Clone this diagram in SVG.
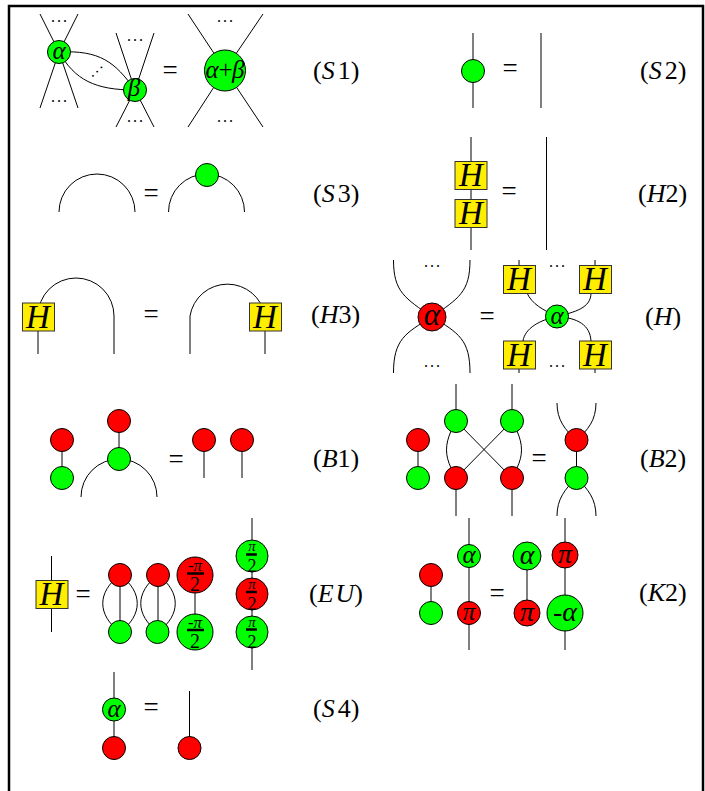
<svg xmlns="http://www.w3.org/2000/svg" width="705" height="791" viewBox="0 0 705 791">
<style>
text{font-family:"Liberation Serif","Times New Roman",serif;fill:#000}
.w{fill:none;stroke:#000;stroke-width:1}
.g{fill:#0f0;stroke:#000;stroke-width:1}
.r{fill:#f00;stroke:#000;stroke-width:1}
.y{fill:#ffee00;stroke:#333;stroke-width:1}
.eq{font-size:27px;text-anchor:middle}
.lab{font-size:26px}
.i{font-style:italic}
.n{font-size:25px;font-style:italic;text-anchor:middle}
.b{font-size:28px}
.h{font-size:33px;font-style:italic;text-anchor:middle}
.d{font-size:16px;letter-spacing:2px;text-anchor:middle}
.num{font-size:17px;text-anchor:middle}
.den{font-size:20px;text-anchor:middle}
.sn{font-size:15px;text-anchor:middle;font-style:italic}
.sd{font-size:18px;text-anchor:middle}
.bar{stroke:#000;stroke-width:2.5}
</style>
<rect x="9" y="6" width="694" height="800" fill="#fff" stroke="#000" stroke-width="2.5"/>
<g id="connectors" class="w">
<path d="M40,14L59,52L78,14M40,108L59,52L78,108"/>
<path d="M116,33L135,90L154,33M116,127L135,90L154,127"/>
<path d="M59,52C100,50 115,62 135,90M59,52C75,80 95,90 135,90"/>
<path d="M188,14L225,70L263,14M188,127L225,70L263,127"/>
<path d="M473,33V108M541,33V108"/>
<path d="M59,212A38,38 0 0 1 135,212"/>
<path d="M168.500,212A38,38 0 0 1 244.500,212"/>
<path d="M471,137V250M546.500,137V250"/>
<path d="M38,331V354M38,316A38,38 0 0 1 114,316V354"/>
<path d="M190,354V316A38,38 0 0 1 265,316M265,331V354"/>
<path d="M393.500,260C393.500,292 405,298 432,317C459,298 470,292 470,260"/>
<path d="M393.500,373C393.500,340 405,333 432,317C459,333 470,340 470,373"/>
<path d="M519,260V266M595,260V266M519,368V373M595,368V373"/>
<path d="M527,293C532,304 543,310 557,316.500C575,312 591,308 591,293"/>
<path d="M523,341C525,328 540,320 557,316.500C578,318 590,325 591,341"/>
<path d="M62,440V478M119,421V459M81,497A38,38 0 0 1 157,497"/>
<path d="M204,440V478M242,440V478"/>
<path d="M418,440V478M456,384V421M512,384V421M456,478V516M512,478V516"/>
<path d="M456,421L512,478M512,421L456,478"/>
<path d="M451,431C445,445 445,455 451,468M517,431C523,445 523,455 517,468"/>
<path d="M557,403C557,420 565,430 576.500,440C588,430 596,420 596,403"/>
<path d="M576.500,440V478M557,516C557,499 565,489 576.500,478C588,489 596,499 596,516"/>
<path d="M51.500,556V632"/>
<path d="M120,575V632M158,575V632"/>
<path d="M120,575C97,592 97,615 120,632C143,615 143,592 120,575"/>
<path d="M158,575C135,592 135,615 158,632C181,615 181,592 158,575"/>
<path d="M195,575V632M252,518V670"/>
<path d="M114,672V748M189.500,691V748"/>
<path d="M431,575V613M469,518V650M527,556V613M565,518V650"/>
</g>
<g id="equals">
<text class="eq" x="170" y="79">=</text>
<text class="eq" x="510" y="77">=</text>
<text class="eq" x="151" y="202">=</text>
<text class="eq" x="509" y="200">=</text>
<text class="eq" x="151" y="323">=</text>
<text class="eq" x="487" y="325">=</text>
<text class="eq" x="176" y="468">=</text>
<text class="eq" x="539" y="467">=</text>
<text class="eq" x="83" y="603">=</text>
<text class="eq" x="151" y="716">=</text>
<text class="eq" x="497" y="602">=</text>
</g>
<g id="dots">
<text class="d" x="60" y="22">...</text>
<text class="d" x="60" y="102">...</text>
<text class="d" x="136" y="41">...</text>
<text class="d" x="136" y="122">...</text>
<text class="d" x="226" y="22">...</text>
<text class="d" x="226" y="122">...</text>
<text class="d" x="97" y="72" transform="rotate(-45 97 70)">...</text>
<text class="d" x="433" y="267">...</text>
<text class="d" x="433" y="367">...</text>
<text class="d" x="558" y="267">...</text>
<text class="d" x="558" y="367">...</text>
</g>
<g id="n-s1-a"><circle class="g" cx="59" cy="52" r="11.500"/><text class="n" x="59" y="59">α</text></g>
<g id="n-s1-b"><circle class="g" cx="135" cy="90" r="11.500"/><text class="n" x="134" y="96">β</text></g>
<g id="n-s1-ab"><circle class="g" cx="225" cy="70.500" r="20.500"/><text class="n" x="225" y="78" textLength="39">α+β</text></g>
<g id="n-s2"><circle class="g" cx="473" cy="71" r="11.500"/></g>
<g id="n-s3"><circle class="g" cx="207" cy="175" r="11.500"/></g>
<g id="n-h2-1"><rect class="y" x="455" y="161.500" width="32" height="28"/><text class="h" x="471" y="186">H</text></g>
<g id="n-h2-2"><rect class="y" x="455" y="199.500" width="32" height="28"/><text class="h" x="471" y="224">H</text></g>
<g id="n-h3-l"><rect class="y" x="22.500" y="303" width="32" height="28"/><text class="h" x="38" y="327.500">H</text></g>
<g id="n-h3-r"><rect class="y" x="249.500" y="303" width="32" height="28"/><text class="h" x="265" y="327.500">H</text></g>
<g id="n-h-red"><circle class="r" cx="432" cy="317" r="14"/><text class="n" x="432" y="325" style="font-size:31px">α</text></g>
<g id="n-h-b1"><rect class="y" x="503.500" y="265.500" width="32" height="28"/><text class="h" x="519" y="290">H</text></g>
<g id="n-h-b2"><rect class="y" x="579.500" y="265.500" width="32" height="28"/><text class="h" x="595" y="290">H</text></g>
<g id="n-h-b3"><rect class="y" x="503.500" y="341" width="32" height="28"/><text class="h" x="519" y="365.500">H</text></g>
<g id="n-h-b4"><rect class="y" x="579.500" y="341" width="32" height="28"/><text class="h" x="595" y="365.500">H</text></g>
<g id="n-h-green"><circle class="g" cx="557" cy="316.500" r="11.500"/><text class="n" x="557" y="324">α</text></g>
<g id="n-b1-1"><circle class="r" cx="62" cy="440" r="11.500"/></g>
<g id="n-b1-2"><circle class="g" cx="62" cy="478" r="11.500"/></g>
<g id="n-b1-3"><circle class="r" cx="119" cy="421" r="11.500"/></g>
<g id="n-b1-4"><circle class="g" cx="119" cy="459" r="11.500"/></g>
<g id="n-b1-5"><circle class="r" cx="204" cy="440" r="11.500"/></g>
<g id="n-b1-6"><circle class="r" cx="242" cy="440" r="11.500"/></g>
<g id="n-b2-1"><circle class="r" cx="418" cy="440" r="11.500"/></g>
<g id="n-b2-2"><circle class="g" cx="418" cy="478" r="11.500"/></g>
<g id="n-b2-3"><circle class="g" cx="456" cy="421" r="11.500"/></g>
<g id="n-b2-4"><circle class="g" cx="512" cy="421" r="11.500"/></g>
<g id="n-b2-5"><circle class="r" cx="456" cy="478" r="11.500"/></g>
<g id="n-b2-6"><circle class="r" cx="512" cy="478" r="11.500"/></g>
<g id="n-b2-7"><circle class="r" cx="576.500" cy="440" r="11.500"/></g>
<g id="n-b2-8"><circle class="g" cx="576.500" cy="478" r="11.500"/></g>
<g id="n-eu-h"><rect class="y" x="36" y="580.500" width="32" height="28"/><text class="h" x="51.500" y="605">H</text></g>
<g id="n-eu-1"><circle class="r" cx="120" cy="575" r="11.500"/></g>
<g id="n-eu-2"><circle class="g" cx="120" cy="632" r="11.500"/></g>
<g id="n-eu-3"><circle class="r" cx="158" cy="575" r="11.500"/></g>
<g id="n-eu-4"><circle class="g" cx="157.500" cy="632" r="11.500"/></g>
<g id="n-eu-5"><circle class="r" cx="195" cy="575" r="18"/><text class="num" x="195" y="571">-<tspan class="i">π</tspan></text><path class="bar" d="M187,573.500H204"/><text class="den" x="195" y="591">2</text></g>
<g id="n-eu-6"><circle class="g" cx="195" cy="632" r="18"/><text class="num" x="195" y="628">-<tspan class="i">π</tspan></text><path class="bar" d="M187,630H204"/><text class="den" x="195" y="648">2</text></g>
<g id="n-eu-7"><circle class="g" cx="252" cy="556" r="16"/><text class="sn" x="252" y="551">π</text><path class="bar" d="M246,554.500H257"/><text class="sd" x="252" y="572">2</text></g>
<g id="n-eu-8"><circle class="r" cx="252" cy="594" r="16"/><text class="sn" x="252" y="589">π</text><path class="bar" d="M246,592H257"/><text class="sd" x="252" y="610">2</text></g>
<g id="n-eu-9"><circle class="g" cx="252" cy="632" r="16"/><text class="sn" x="252" y="627">π</text><path class="bar" d="M246,629.500H257"/><text class="sd" x="252" y="648">2</text></g>
<g id="n-s4-1"><circle class="g" cx="114" cy="709.500" r="11.500"/><text class="n" x="114" y="717">α</text></g>
<g id="n-s4-2"><circle class="r" cx="114" cy="748" r="11.500"/></g>
<g id="n-s4-3"><circle class="r" cx="189.500" cy="748" r="11.500"/></g>
<g id="n-k2-1"><circle class="r" cx="431" cy="575" r="11.500"/></g>
<g id="n-k2-2"><circle class="g" cx="431" cy="613" r="11.500"/></g>
<g id="n-k2-3"><circle class="g" cx="469" cy="556" r="11.500"/><text class="n" x="469" y="563">α</text></g>
<g id="n-k2-4"><circle class="r" cx="469" cy="613" r="11.500"/><text class="n" x="469" y="620">π</text></g>
<g id="n-k2-5"><circle class="g" cx="527" cy="556" r="14"/><text class="n b" x="527" y="564">α</text></g>
<g id="n-k2-6"><circle class="r" cx="527" cy="613" r="13"/><text class="n b" x="527" y="621">π</text></g>
<g id="n-k2-7"><circle class="r" cx="565" cy="555" r="13"/><text class="n b" x="565" y="563">π</text></g>
<g id="n-k2-8"><circle class="g" cx="565" cy="613" r="18"/><text class="n b" x="565" y="621"><tspan style="font-style:normal">-</tspan>α</text></g>
<g id="labels">
<text class="lab" x="313" y="79">(<tspan class="i">S</tspan><tspan dx="3">1)</tspan></text>
<text class="lab" x="640" y="79">(<tspan class="i">S</tspan><tspan dx="3">2)</tspan></text>
<text class="lab" x="313" y="202">(<tspan class="i">S</tspan><tspan dx="3">3)</tspan></text>
<text class="lab" x="638" y="202">(<tspan class="i">H</tspan>2)</text>
<text class="lab" x="311" y="323">(<tspan class="i">H</tspan>3)</text>
<text class="lab" x="645" y="325">(<tspan class="i">H</tspan>)</text>
<text class="lab" x="313" y="467">(<tspan class="i">B</tspan>1)</text>
<text class="lab" x="640" y="467">(<tspan class="i">B</tspan>2)</text>
<text class="lab" x="309" y="602">(<tspan class="i">E</tspan><tspan class="i" dx="2">U</tspan>)</text>
<text class="lab" x="313" y="717">(<tspan class="i">S</tspan><tspan dx="3">4)</tspan></text>
<text class="lab" x="639" y="601">(<tspan class="i">K</tspan>2)</text>
</g>
</svg>
